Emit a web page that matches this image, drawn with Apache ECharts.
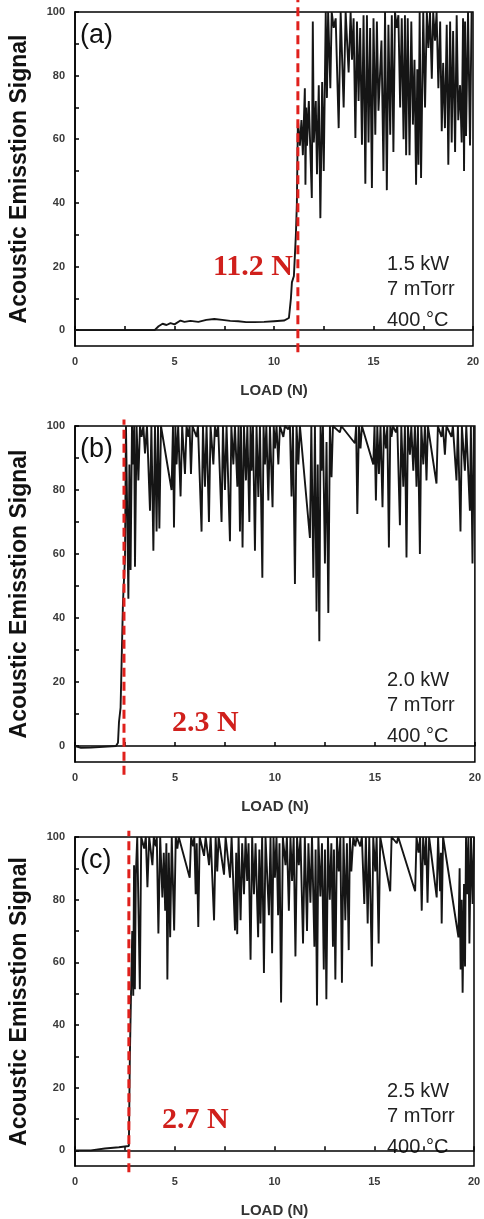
<!DOCTYPE html>
<html>
<head>
<meta charset="utf-8">
<script src="https://cdn.jsdelivr.net/npm/echarts@6/dist/echarts.min.js"></script>
<style>
  html, body { margin: 0; padding: 0; background: #fff; }
  #chart { width: 484px; height: 1219px; }
</style>
</head>
<body>
<div id="chart"></div>
<script>
// load (N) vs acoustic emission signal
const traceA = [
  [0,0],[4.0,0],[4.2,1.2],[4.4,2.0],[4.6,1.6],[4.8,2.2],[5.0,1.8],[5.3,3.0],[5.5,2.6],[5.8,2.9],
  [6.2,2.6],[6.6,3.2],[7.0,3.5],[7.4,3.2],[7.8,2.9],[8.2,2.8],[8.6,2.5],[9.0,2.5],[9.5,2.6],[10.0,2.8],
  [10.5,3.0],[10.75,3.8],[10.85,10],[10.9,15],[11.0,17],[11.1,30],[11.15,40],[11.2,66],[11.3,58],[11.38,66],
  [11.45,55],[11.55,76],[11.58,45.7],[11.62,70],[11.66,58],[11.75,72],[11.9,41.5],[11.95,97],[12.0,59],[12.1,72],
  [12.16,49],[12.25,77],[12.33,35.2],[12.42,78],[12.5,50],[12.6,100],[12.66,73],[12.72,100],[12.83,76],[12.9,100],
  [13.0,95],[13.1,98],[13.25,63.5],[13.35,100],[13.5,70],[13.6,100],[13.75,81],[13.85,100],[13.92,85],[14.0,98],
  [14.09,60.4],[14.17,97],[14.25,72],[14.33,95],[14.42,58.3],[14.5,99],[14.59,46],[14.67,99],[14.75,59],[14.83,95],
  [14.92,44.7],[15.0,98],[15.09,61.4],[15.17,97],[15.25,69],[15.4,91],[15.5,50],[15.58,100],[15.67,44],[15.75,96],
  [15.84,61.4],[15.92,99],[16.0,56],[16.08,100],[16.17,95],[16.25,99],[16.34,70],[16.42,98],[16.51,60],[16.58,99],
  [16.64,55],[16.72,98],[16.81,55],[16.9,97],[16.98,64.6],[17.06,85],[17.14,45.7],[17.2,82],[17.26,52],[17.32,100],
  [17.39,47.8],[17.5,100],[17.59,70],[17.68,100],[17.76,88.7],[17.84,100],[17.93,79],[18.0,100],[18.09,91],[18.17,100],
  [18.26,76],[18.35,97],[18.43,62.5],[18.5,84],[18.59,63.5],[18.68,96],[18.76,52],[18.85,97],[18.93,59],[19.0,94],
  [19.1,56],[19.18,99],[19.26,66],[19.35,77],[19.43,59],[19.5,98],[19.55,50],[19.6,97],[19.65,61],[19.75,100],
  [19.85,58],[19.93,100]
];
const traceB = [
  [0,0],[0.3,-0.6],[0.8,-0.5],[0.9,0],[2.05,0],[2.15,1],[2.2,7.5],[2.28,12],[2.35,12.5],[2.4,45],
  [2.5,59],[2.55,100],[2.67,46],[2.72,88],[2.78,55],[2.85,100],[2.92,88],[2.96,100],[3.0,56],[3.08,100],
  [3.17,83],[3.25,100],[3.33,96.6],[3.42,100],[3.5,91.4],[3.6,100],[3.75,73.5],[3.82,100],[3.92,61],[4.0,100],
  [4.08,67],[4.15,100],[4.22,68],[4.3,100],[4.83,80],[4.9,100],[4.95,68.3],[5.02,100],[5.08,88],[5.16,100],
  [5.28,78],[5.36,100],[5.5,85],[5.58,100],[5.67,96.6],[5.73,100],[5.8,85],[5.88,100],[6.08,96.6],[6.15,100],
  [6.33,67],[6.4,100],[6.5,81],[6.58,100],[6.7,70],[6.78,100],[6.92,88],[7.0,100],[7.08,96.6],[7.16,100],
  [7.33,70],[7.4,100],[7.5,80],[7.58,100],[7.75,64],[7.82,100],[7.92,88],[8.0,100],[8.12,81],[8.18,100],
  [8.25,67],[8.3,100],[8.38,62],[8.45,100],[8.55,83],[8.62,100],[8.72,70],[8.78,100],[8.83,86],[8.9,100],
  [9.0,61],[9.08,100],[9.17,77.8],[9.25,100],[9.37,52.6],[9.43,100],[9.5,88],[9.57,100],[9.67,76.7],[9.75,100],
  [9.88,74.6],[9.94,100],[10.0,93],[10.08,100],[10.17,88],[10.25,100],[10.42,96.6],[10.5,100],[10.67,99],[10.75,100],
  [10.83,78],[10.9,100],[11.0,50.6],[11.08,100],[11.17,88],[11.25,100],[11.75,65],[11.82,100],[11.92,52.6],[12.0,100],
  [12.08,42],[12.14,88],[12.22,32.7],[12.28,100],[12.33,86],[12.4,100],[12.5,57],[12.58,95],[12.67,41.6],[12.75,100],
  [12.83,84],[12.9,100],[13.25,98],[13.32,100],[14.0,94.6],[14.06,100],[14.12,72.5],[14.2,100],[14.28,93],[14.35,100],
  [14.92,88],[14.98,100],[15.05,76.7],[15.12,100],[15.2,85],[15.28,100],[15.38,74.6],[15.45,100],[15.55,93],[15.62,100],
  [15.7,62],[15.77,100],[15.83,96.6],[15.9,100],[16.05,98],[16.12,100],[16.25,69],[16.32,100],[16.42,81],[16.5,100],
  [16.58,58.9],[16.65,100],[16.75,91],[16.82,100],[16.92,86],[17.0,100],[17.08,81],[17.15,100],[17.25,60],[17.32,100],
  [17.42,88],[17.5,100],[17.58,83],[17.65,100],[18.08,82],[18.15,100],[18.33,96.6],[18.4,100],[18.5,91],[18.58,100],
  [18.83,96.6],[18.9,100],[19.08,83],[19.15,100],[19.28,67],[19.35,100],[19.5,86],[19.57,100],[19.75,73.5],[19.8,100],
  [19.88,57],[19.95,100]
];
const traceC = [
  [0,0],[0.8,0],[1.5,0.6],[2.2,1.0],[2.7,1.4],[2.75,30],[2.8,47],[2.87,70],[2.92,49.3],[2.96,91],
  [3.0,51.4],[3.05,88],[3.12,100],[3.25,51.4],[3.32,100],[3.47,96.3],[3.55,100],[3.63,84],[3.72,100],[3.88,91],
  [3.95,100],[4.05,97],[4.1,100],[4.18,69.2],[4.27,100],[4.38,80.7],[4.45,95],[4.52,76.5],[4.58,98],[4.63,54.5],
  [4.7,95],[4.77,68],[4.85,100],[4.97,70.2],[5.05,100],[5.13,96.3],[5.2,100],[5.75,87],[5.82,100],[5.92,97],
  [5.98,100],[6.05,81.7],[6.1,98],[6.18,71.3],[6.25,100],[6.47,94],[6.55,100],[6.72,91],[6.8,100],[6.97,73.4],
  [7.05,100],[7.13,89],[7.2,100],[7.47,88],[7.55,100],[7.77,87],[7.85,100],[8.02,70.2],[8.08,95],[8.13,69],
  [8.2,100],[8.3,73.4],[8.38,98],[8.47,81.7],[8.55,100],[8.63,86],[8.7,98],[8.8,60.8],[8.88,100],[8.97,81.7],
  [9.05,98],[9.18,68],[9.24,96],[9.3,72.4],[9.38,100],[9.47,56.6],[9.55,100],[9.72,75],[9.8,100],[9.88,62.9],
  [9.95,100],[10.02,87],[10.1,100],[10.18,75],[10.25,98],[10.33,47.2],[10.42,100],[10.55,91],[10.62,100],[10.72,76.5],
  [10.8,100],[10.88,86],[10.96,100],[11.05,61.9],[11.13,100],[11.22,91],[11.3,100],[11.43,66],[11.52,100],[11.63,70],
  [11.7,98],[11.8,79],[11.88,100],[12.0,65],[12.06,96],[12.13,46.2],[12.2,100],[12.3,81],[12.38,98],[12.47,57.7],
  [12.53,96],[12.6,48.2],[12.68,100],[12.77,80],[12.85,98],[12.93,65],[12.98,96],[13.05,54.5],[13.13,100],[13.22,89],
  [13.3,100],[13.38,53.5],[13.46,100],[13.55,73.4],[13.63,98],[13.72,63.9],[13.78,100],[13.85,89],[13.95,100],[14.05,97],
  [14.12,100],[14.3,97],[14.38,100],[14.5,78.6],[14.58,100],[14.67,72.4],[14.75,100],[14.88,58.7],[14.95,100],[15.05,89],
  [15.12,100],[15.22,66],[15.3,100],[15.8,82.7],[15.87,100],[16.13,98],[16.2,100],[17.05,82.7],[17.12,100],[17.22,95],
  [17.3,100],[17.38,76.5],[17.45,100],[17.55,91],[17.6,100],[17.67,79],[17.75,100],[18.13,80.7],[18.2,100],[18.3,82.7],
  [18.34,95],[18.38,72.4],[18.45,100],[19.22,68],[19.28,90],[19.33,57.7],[19.38,80],[19.43,50.3],[19.5,85],[19.55,58.7],
  [19.6,100],[19.67,81.7],[19.72,100],[19.77,66],[19.85,100],[19.93,78.6],[20,100]
];

const panelTags = ['(a)', '(b)', '(c)'];
const powers = ['1.5 kW', '2.0 kW', '2.5 kW'];
const failLoad = [11.2, 2.45, 2.7];
const failText = ['11.2 N', '2.3 N', '2.7 N'];
const dashSpan = [[-7, 104], [-9, 102], [-7, 102]];
const xTicks = [0, 2.5, 5, 7.5, 10, 12.5, 15, 17.5, 20];
const xLabels = [0, 5, 10, 15, 20];
const yTicks = [0, 10, 20, 30, 40, 50, 60, 70, 80, 90, 100];
const yLabels = [0, 20, 40, 60, 80, 100];

const grids = [
  { left: 74, top: 12, width: 399, height: 334 },
  { left: 75, top: 426, width: 400, height: 336 },
  { left: 74, top: 837, width: 400, height: 336 }
];

const chart = echarts.init(document.getElementById('chart'));

const tickFont = { fontFamily: 'Liberation Sans, Arial', fontSize: 11, fontWeight: 'bold', color: '#3a3a3a' };

const xAxes = grids.map((g, i) => ({
  gridIndex: i, type: 'value', min: 0, max: 20, interval: 5,
  axisLine: { show: true, lineStyle: { color: '#000', width: 1.5 } },
  axisTick: { show: true, inside: true, length: 4, customValues: xTicks, lineStyle: { color: '#000', width: 1.5 } },
  axisLabel: Object.assign({ margin: 10, customValues: xLabels }, tickFont),
  splitLine: { show: false },
  name: 'LOAD (N)', nameLocation: 'middle', nameGap: 37,
  nameTextStyle: { fontFamily: 'Liberation Sans, Arial', fontSize: 15, fontWeight: 'bold', color: '#333' }
}));

const yAxes = grids.map((g, i) => ({
  gridIndex: i, type: 'value', min: -5, max: 100,
  axisLine: { show: true, lineStyle: { color: '#000', width: 1.5 } },
  axisTick: { show: true, inside: true, length: 4, customValues: yTicks, lineStyle: { color: '#000', width: 1.5 } },
  axisLabel: Object.assign({ margin: 10, customValues: yLabels }, tickFont),
  splitLine: { show: false },
  name: 'Acoustic Emisstion Signal', nameLocation: 'middle', nameGap: 44,
  nameTextStyle: { fontFamily: 'Liberation Sans, Arial', fontSize: 23, fontWeight: 'bold', color: '#111' }
}));

const traces = [traceA, traceB, traceC];
const series = [];
traces.forEach((t, i) => {
  series.push({
    type: 'line', xAxisIndex: i, yAxisIndex: i, data: t, symbol: 'none',
    lineStyle: { color: '#151515', width: 1.9 }, animation: false
  });
  series.push({
    type: 'line', xAxisIndex: i, yAxisIndex: i, clip: false, symbol: 'none',
    data: [[failLoad[i], dashSpan[i][0]], [failLoad[i], dashSpan[i][1]]],
    lineStyle: { color: '#e0201c', width: 3, type: [9, 5] }, z: 5, animation: false
  });
});

const graphics = [];
grids.forEach((g, i) => {
  graphics.push({
    type: 'text', left: 80, top: g.top + 10,
    style: { text: panelTags[i], font: '27px "Liberation Sans", Arial', fill: '#111' }
  });
  const pLines = [powers[i], '7 mTorr', '400 °C'];
  pLines.forEach((s, k) => {
    graphics.push({
      type: 'text', left: 387, top: g.top + g.height - [92, 67, 36][k],
      style: { text: s, font: '20px "Liberation Sans", Arial', fill: '#222' }
    });
  });
});
const failPos = [[213, 252], [172, 708], [162, 1105]];
failText.forEach((s, i) => {
  graphics.push({
    type: 'text', left: failPos[i][0], top: failPos[i][1],
    style: { text: s, font: 'bold 30px "Liberation Serif", "Times New Roman"', fill: '#d0201c' }
  });
});

chart.setOption({
  backgroundColor: '#fff',
  animation: false,
  grid: grids.map(g => Object.assign({ show: true, borderColor: '#000', borderWidth: 1.5, containLabel: false }, g)),
  xAxis: xAxes,
  yAxis: yAxes,
  series: series,
  graphic: graphics
});
</script>
</body>
</html>
